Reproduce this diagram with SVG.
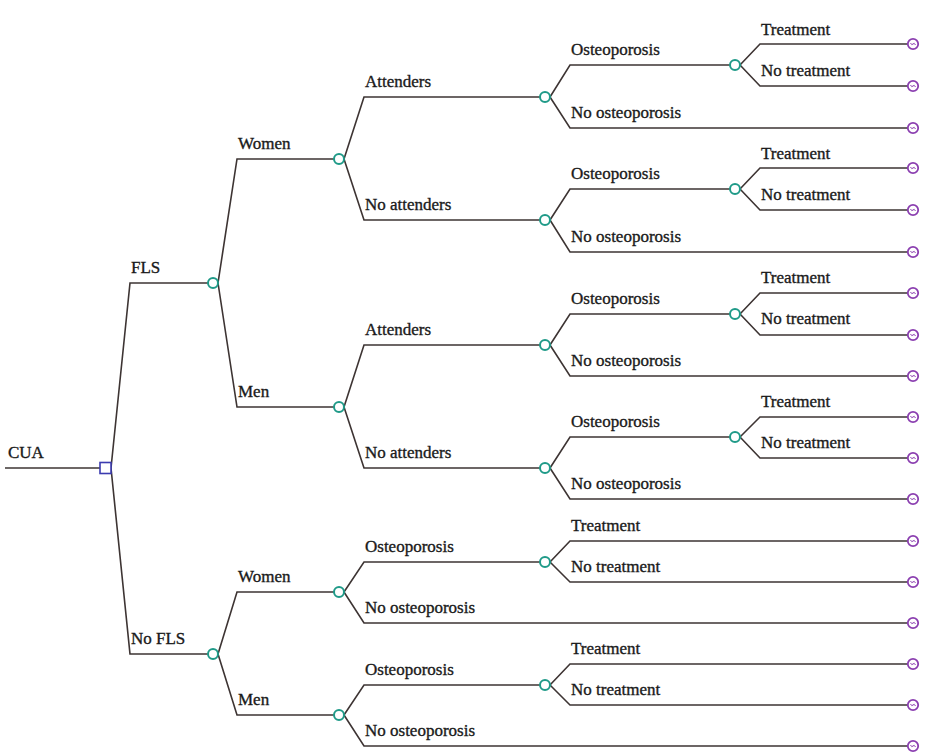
<svg xmlns="http://www.w3.org/2000/svg" width="938" height="754" viewBox="0 0 938 754">
<defs>
<style>
.e{fill:none;stroke:#3d3433;stroke-width:1.6}
.c{fill:#fff;stroke:#1f9a88;stroke-width:2}
.t{fill:#fff;stroke:#8b3fb0;stroke-width:1.8}
.tm{fill:none;stroke:#8b3fb0;stroke-width:1}
.d{fill:#fff;stroke:#3b3bb0;stroke-width:1.6}
.lb{font-family:'Liberation Serif','DejaVu Serif',serif;font-size:17px;fill:#1a1a1a;stroke:#1a1a1a;stroke-width:0.35}
</style>
<g id="term">
<circle class="t" cx="0" cy="0" r="5.2"/>
<path class="tm" d="M-2.5,-1 Q-1.2,1.8 0,0 Q1.2,-1.8 2.5,1"/>
</g>
</defs>
<rect width="938" height="754" fill="#fff"/>
<g id="connectors">
<path class="e" d="M5,468 L100,468"/>
<path class="e" d="M111,468 L130,283 L208,283"/>
<path class="e" d="M111,468 L130,654 L208,654"/>
<path class="e" d="M218,283 L237,159 L334,159"/>
<path class="e" d="M218,283 L237,407 L334,407"/>
<path class="e" d="M218,654 L237,592 L334,592"/>
<path class="e" d="M218,654 L237,715 L334,715"/>
<path class="e" d="M344,159 L364,97 L540,97"/>
<path class="e" d="M344,159 L364,220 L540,220"/>
<path class="e" d="M344,407 L364,345 L540,345"/>
<path class="e" d="M344,407 L364,468 L540,468"/>
<path class="e" d="M344,592 L364,562 L540,562"/>
<path class="e" d="M344,592 L364,623 L908,623"/>
<path class="e" d="M344,715 L364,685 L540,685"/>
<path class="e" d="M344,715 L364,746 L908,746"/>
<path class="e" d="M550,97 L570,65 L730,65"/>
<path class="e" d="M550,97 L570,128 L908,128"/>
<path class="e" d="M550,220 L570,189 L730,189"/>
<path class="e" d="M550,220 L570,252 L908,252"/>
<path class="e" d="M550,345 L570,314 L730,314"/>
<path class="e" d="M550,345 L570,376 L908,376"/>
<path class="e" d="M550,468 L570,437 L730,437"/>
<path class="e" d="M550,468 L570,499 L908,499"/>
<path class="e" d="M550,562 L570,541 L908,541"/>
<path class="e" d="M550,562 L570,582 L908,582"/>
<path class="e" d="M550,685 L570,664 L908,664"/>
<path class="e" d="M550,685 L570,705 L908,705"/>
<path class="e" d="M740,65 L760,44 L908,44"/>
<path class="e" d="M740,65 L760,86 L908,86"/>
<path class="e" d="M740,189 L760,168 L908,168"/>
<path class="e" d="M740,189 L760,210 L908,210"/>
<path class="e" d="M740,314 L760,293 L908,293"/>
<path class="e" d="M740,314 L760,335 L908,335"/>
<path class="e" d="M740,437 L760,417 L908,417"/>
<path class="e" d="M740,437 L760,458 L908,458"/>
</g>
<g id="labels" class="lb">
<text x="8" y="458">CUA</text>
<text x="131" y="273">FLS</text>
<text x="131" y="644">No FLS</text>
<text x="238" y="149">Women</text>
<text x="238" y="397">Men</text>
<text x="238" y="582">Women</text>
<text x="238" y="705">Men</text>
<text x="365" y="87">Attenders</text>
<text x="365" y="210">No attenders</text>
<text x="365" y="335">Attenders</text>
<text x="365" y="458">No attenders</text>
<text x="365" y="552">Osteoporosis</text>
<text x="365" y="613">No osteoporosis</text>
<text x="365" y="675">Osteoporosis</text>
<text x="365" y="736">No osteoporosis</text>
<text x="571" y="55">Osteoporosis</text>
<text x="571" y="118">No osteoporosis</text>
<text x="571" y="179">Osteoporosis</text>
<text x="571" y="242">No osteoporosis</text>
<text x="571" y="304">Osteoporosis</text>
<text x="571" y="366">No osteoporosis</text>
<text x="571" y="427">Osteoporosis</text>
<text x="571" y="489">No osteoporosis</text>
<text x="571" y="531">Treatment</text>
<text x="571" y="572">No treatment</text>
<text x="571" y="654">Treatment</text>
<text x="571" y="695">No treatment</text>
<text x="761" y="35">Treatment</text>
<text x="761" y="76">No treatment</text>
<text x="761" y="159">Treatment</text>
<text x="761" y="200">No treatment</text>
<text x="761" y="283">Treatment</text>
<text x="761" y="324">No treatment</text>
<text x="761" y="407">Treatment</text>
<text x="761" y="448">No treatment</text>
</g>
<g id="decision"><rect class="d" x="100" y="462.5" width="11" height="11"/></g>
<g id="chance-nodes">
<circle id="n-fls" class="c" cx="213" cy="283" r="5"/>
<circle id="n-nofls" class="c" cx="213" cy="654" r="5"/>
<circle id="n-w1" class="c" cx="339" cy="159" r="5"/>
<circle id="n-m1" class="c" cx="339" cy="407" r="5"/>
<circle id="n-w2" class="c" cx="339" cy="592" r="5"/>
<circle id="n-m2" class="c" cx="339" cy="715" r="5"/>
<circle id="n-a1" class="c" cx="545" cy="97" r="5"/>
<circle id="n-na1" class="c" cx="545" cy="220" r="5"/>
<circle id="n-a2" class="c" cx="545" cy="345" r="5"/>
<circle id="n-na2" class="c" cx="545" cy="468" r="5"/>
<circle id="n-o5" class="c" cx="545" cy="562" r="5"/>
<circle id="n-o6" class="c" cx="545" cy="685" r="5"/>
<circle id="n-o1" class="c" cx="735" cy="65" r="5"/>
<circle id="n-o2" class="c" cx="735" cy="189" r="5"/>
<circle id="n-o3" class="c" cx="735" cy="314" r="5"/>
<circle id="n-o4" class="c" cx="735" cy="437" r="5"/>
</g>
<g id="terminals">
<use href="#term" x="913" y="44"/>
<use href="#term" x="913" y="86"/>
<use href="#term" x="913" y="128"/>
<use href="#term" x="913" y="168"/>
<use href="#term" x="913" y="210"/>
<use href="#term" x="913" y="252"/>
<use href="#term" x="913" y="293"/>
<use href="#term" x="913" y="335"/>
<use href="#term" x="913" y="376"/>
<use href="#term" x="913" y="417"/>
<use href="#term" x="913" y="458"/>
<use href="#term" x="913" y="499"/>
<use href="#term" x="913" y="541"/>
<use href="#term" x="913" y="582"/>
<use href="#term" x="913" y="623"/>
<use href="#term" x="913" y="664"/>
<use href="#term" x="913" y="705"/>
<use href="#term" x="913" y="746"/>
</g>
</svg>
